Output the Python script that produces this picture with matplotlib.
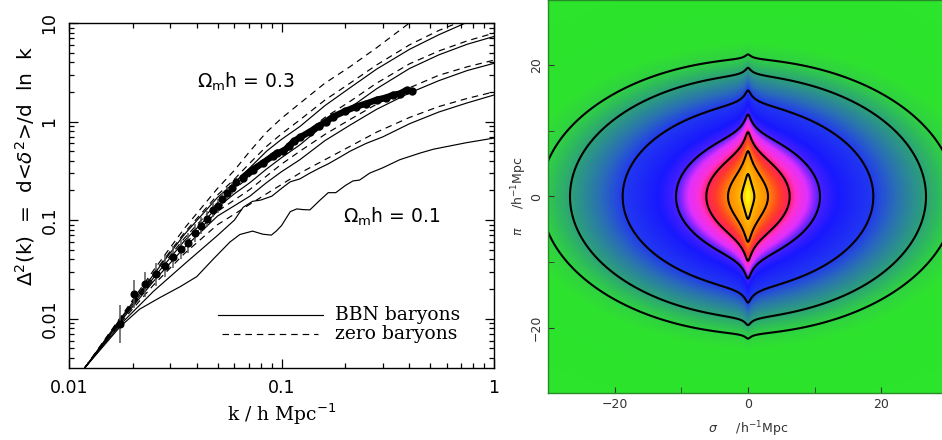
import numpy as np
import matplotlib
matplotlib.use("Agg")
import matplotlib.pyplot as plt
from matplotlib.colors import LinearSegmentedColormap
from matplotlib.ticker import FixedLocator, NullFormatter

plt.rcParams['font.family'] = ['DejaVu Sans']
plt.rcParams['mathtext.fontset'] = 'dejavusans'

# ---------------- linear-theory curves, Delta^2(k) ----------------
k_smooth = [0.0119, 0.0174, 0.025, 0.035, 0.05, 0.06, 0.071, 0.085, 0.1, 0.122,
            0.16, 0.21, 0.28, 0.4, 0.55, 0.75, 1.0]

zero_030 = [0.0032, 0.0102, 0.031, 0.083, 0.21, 0.32, 0.50, 0.78, 1.08, 1.53,
            2.45, 3.6, 5.6, 10.0, 15.0, 21.0, 28.0]
zero_025 = [0.0032, 0.0100, 0.029, 0.075, 0.18, 0.26, 0.38, 0.56, 0.75, 1.04,
            1.65, 2.45, 3.75, 6.0, 8.4, 11.0, 14.0]
bbn_030 = [0.0032, 0.0099, 0.028, 0.072, 0.17, 0.24, 0.34, 0.50, 0.66, 0.89,
           1.45, 2.2, 3.4, 5.4, 7.6, 10.2, 13.0]
zero_020 = [0.0032, 0.0097, 0.027, 0.066, 0.15, 0.205, 0.28, 0.39, 0.52, 0.70,
            1.1, 1.6, 2.45, 3.85, 5.2, 6.6, 7.9]
bbn_025 = [0.0032, 0.0096, 0.026, 0.062, 0.135, 0.185, 0.24, 0.33, 0.43, 0.58,
           0.94, 1.38, 2.15, 3.45, 4.75, 6.1, 7.3]
zero_015 = [0.0032, 0.0094, 0.025, 0.057, 0.123, 0.16, 0.205, 0.28, 0.37, 0.50,
            0.74, 1.05, 1.5, 2.2, 2.95, 3.6, 4.2]
bbn_020 = [0.0032, 0.0093, 0.024, 0.053, 0.11, 0.14, 0.175, 0.24, 0.31, 0.41,
           0.64, 0.92, 1.33, 1.95, 2.6, 3.3, 3.9]
zero_010 = [0.0032, 0.009, 0.022, 0.046, 0.09, 0.115, 0.145, 0.185, 0.23, 0.30,
            0.41, 0.56, 0.78, 1.1, 1.42, 1.72, 2.0]

k_bbn015 = [0.0119, 0.0174, 0.025, 0.035, 0.05, 0.06, 0.066, 0.073, 0.08, 0.09,
            0.1015, 0.11, 0.122, 0.136, 0.152, 0.165, 0.19, 0.21, 0.25, 0.3, 0.4,
            0.55, 0.75, 1.0]
bbn_015 = [0.0032, 0.0087, 0.019, 0.036, 0.07, 0.10, 0.135, 0.155, 0.16, 0.175,
           0.215, 0.245, 0.262, 0.30, 0.34, 0.37, 0.44, 0.50, 0.60, 0.70, 0.95,
           1.25, 1.55, 1.86]

k_bbn010 = [0.0119, 0.0174, 0.0215, 0.0268, 0.0333, 0.0399, 0.0476, 0.0572, 0.0637,
            0.0731, 0.0816, 0.0896, 0.0948, 0.1, 0.11, 0.118, 0.126, 0.136, 0.152,
            0.166, 0.18, 0.2, 0.217, 0.233, 0.26, 0.3, 0.36, 0.45, 0.52, 0.74, 1.0]
bbn_010 = [0.0032, 0.0083, 0.0125, 0.0164, 0.0211, 0.0267, 0.040, 0.060, 0.0715,
           0.0774, 0.072, 0.0705, 0.078, 0.088, 0.122, 0.130, 0.128, 0.127, 0.160,
           0.190, 0.190, 0.225, 0.250, 0.255, 0.30, 0.34, 0.41, 0.48, 0.525, 0.61,
           0.68]

# ---------------- measured band powers ----------------
k_low = [0.0174, 0.0202, 0.0227, 0.0256, 0.0282, 0.031, 0.0338, 0.0363, 0.039,
         0.042, 0.0447, 0.0476, 0.0502, 0.0527, 0.0557, 0.0585, 0.0613]
d_low = [0.0088, 0.0177, 0.0223, 0.0281, 0.0342, 0.042, 0.0505, 0.059, 0.0745,
         0.088, 0.103, 0.128, 0.139, 0.162, 0.189, 0.213, 0.243]
err_dex = [0.19, 0.14, 0.13, 0.12, 0.11, 0.11, 0.10, 0.10, 0.09, 0.09, 0.08,
           0.08, 0.07, 0.07, 0.06, 0.06, 0.05]
k_high = [0.0656, 0.0731, 0.0816, 0.0912, 0.095, 0.102, 0.109, 0.114, 0.122, 0.136,
          0.15, 0.162, 0.175, 0.2, 0.225, 0.25, 0.28, 0.31, 0.335, 0.36, 0.388, 0.41]
d_high = [0.27, 0.325, 0.38, 0.45, 0.48, 0.50, 0.57, 0.63, 0.69, 0.79, 0.90, 1.00,
          1.12, 1.28, 1.42, 1.52, 1.66, 1.75, 1.86, 1.92, 2.09, 2.03]

x_ticks = [0.01, 0.1, 1]
x_ticklabels = ['0.01', '0.1', '1']
y_ticks = [0.01, 0.1, 1, 10]
y_ticklabels = ['0.01', '0.1', '1', '10']

# ---------------- redshift-space correlation function ----------------
r0_corr = 5.0          # real-space correlation length
gamma_corr = 1.7       # real-space slope
squash = 1.6           # large-scale infall flattening along pi
sigma_v = 3.6          # pairwise dispersion scale along pi
core = 0.3
sigma_cross = [26.7, 18.8, 10.8, 6.25, 3.0, 0.95]   # contour crossings on pi = 0
pi_cross_outer = 21.7                               # outer contour on sigma = 0

fig = plt.figure(figsize=(9.42, 4.40), dpi=100)

# ======== left panel ========
ax = fig.add_axes([69/942, 72/440, 425/942, 345/440])
ax.set_xscale('log')
ax.set_yscale('log')
ax.set_xlim(0.01, 1)
ax.set_ylim(10**-2.5, 10)

dash = (0, (5.5, 4.2))
lw = 0.85
for vals in [zero_030, zero_025, zero_020, zero_015, zero_010]:
    ax.plot(k_smooth, vals, color='black', lw=lw, linestyle=dash)
for vals in [bbn_030, bbn_025, bbn_020]:
    ax.plot(k_smooth, vals, color='black', lw=lw)
ax.plot(k_bbn015, bbn_015, color='black', lw=lw)
ax.plot(k_bbn010, bbn_010, color='black', lw=lw)

d_low_a = np.array(d_low)
e_a = np.array(err_dex)
ax.vlines(k_low, d_low_a * 10**(-e_a), d_low_a * 10**e_a, color='#555555', lw=1.1, zorder=3)
ax.plot(k_low, d_low, 'o', color='black', ms=4.8, zorder=4)
ax.plot(k_high, d_high, '-', color='black', lw=4.6, solid_capstyle='round',
        solid_joinstyle='round', zorder=4)
ax.plot(k_high, d_high, 'o', color='black', ms=5.0, zorder=4)

ax.xaxis.set_major_locator(FixedLocator(x_ticks))
ax.set_xticklabels(x_ticklabels)
ax.yaxis.set_major_locator(FixedLocator(y_ticks))
ax.set_yticklabels(y_ticklabels, rotation=90, va='center')
ax.xaxis.set_minor_locator(FixedLocator([m * 10.0**e for e in (-2, -1) for m in range(2, 10)]))
ax.yaxis.set_minor_locator(FixedLocator([m * 10.0**e for e in (-3, -2, -1, 0) for m in range(2, 10)]))
ax.xaxis.set_minor_formatter(NullFormatter())
ax.yaxis.set_minor_formatter(NullFormatter())
ax.tick_params(which='both', direction='in', top=True, right=True, width=0.9)
ax.tick_params(which='major', length=6.5, labelsize=12.5, pad=8)
ax.tick_params(axis='y', which='major', pad=7.5)
ax.tick_params(which='minor', length=3.5)
for sp in ax.spines.values():
    sp.set_linewidth(1.0)

ax.set_xlabel(r'k / h Mpc$^{-1}$', family='DejaVu Serif', fontsize=13.5, labelpad=3)
ax.set_ylabel(r'$\Delta^2$(k)  =  d<$\delta^2$>/d  ln  k', fontsize=14.5, va='center')
ax.yaxis.set_label_coords(-0.103, 0.586)

ax.text(0.301, 0.829, r'$\Omega_{\rm m}$h = 0.3', transform=ax.transAxes,
        fontsize=13.5, ha='left', va='center')
ax.text(0.645, 0.438, r'$\Omega_{\rm m}$h = 0.1', transform=ax.transAxes,
        fontsize=13.5, ha='left', va='center')

ax.plot([0.351, 0.598], [0.154, 0.154], transform=ax.transAxes, color='black', lw=lw)
ax.plot([0.36, 0.586], [0.099, 0.099], transform=ax.transAxes, color='black', lw=lw,
        linestyle=dash)
ax.text(0.626, 0.154, 'BBN baryons', transform=ax.transAxes, family='DejaVu Serif',
        fontsize=13.5, va='center')
ax.text(0.626, 0.099, 'zero baryons', transform=ax.transAxes, family='DejaVu Serif',
        fontsize=13.5, va='center')

# ======== right panel ========
sig = np.linspace(-30, 30, 481)
step = sig[1] - sig[0]
pi_pad = np.arange(-70, 70 + step / 2, step)
S, P = np.meshgrid(sig, pi_pad)
r = np.sqrt(S**2 + (squash * P)**2 + core**2)
xi_real = (r / r0_corr)**(-gamma_corr)
v = np.arange(-40, 40 + step / 2, step)
kern = np.exp(-np.sqrt(2) * np.abs(v) / sigma_v)
kern /= kern.sum()
xi_z = np.empty_like(xi_real)
for j in range(xi_real.shape[1]):
    xi_z[:, j] = np.convolve(xi_real[:, j], kern, mode='same')
keep = np.abs(pi_pad) <= 30 + 1e-9
pi_vals = pi_pad[keep]
field = xi_z[keep]

i0 = int(np.argmin(np.abs(pi_vals)))
j0 = int(np.argmin(np.abs(sig)))
levels = [np.interp(pi_cross_outer, pi_vals[i0:], field[i0:, j0])]
row = field[i0]
for sc in sigma_cross:
    levels.append(np.interp(sc, sig[j0:], row[j0:]))
levels = np.array(levels)

lg = np.log10(field)
llev = np.log10(levels)
lo = llev[0] - 0.6
hi = lg.max()


def pos(x):
    return (x - lo) / (hi - lo)


def mix(a, b, t):
    return a + t * (b - a)


stops = [
    (0.0, '#2ae62a'),
    (pos(llev[0]) - 0.03, '#2ee22e'),
    (pos(llev[0]), '#30d044'),
    (pos(llev[1]), '#2ca07a'),
    (pos(mix(llev[1], llev[2], 0.5)), '#2a70b4'),
    (pos(llev[2]), '#2238f0'),
    (pos(mix(llev[2], llev[3], 0.6)), '#1818ff'),
    (pos(llev[3]), '#4a20ff'),
    (pos(mix(llev[3], llev[4], 0.35)), '#e030ff'),
    (pos(mix(llev[3], llev[4], 0.75)), '#ff30d0'),
    (pos(llev[4]), '#ff2060'),
    (pos(mix(llev[4], llev[5], 0.35)), '#ff3a2a'),
    (pos(llev[5]), '#ff8c00'),
    (pos(llev[6]), '#ffc000'),
    (1.0, '#ffff10'),
]
cmap = LinearSegmentedColormap.from_list('xi', stops)

ax2 = fig.add_axes([548/942, 47/440, 400/942, 393/440])
ax2.imshow(lg, origin='lower', extent=[-30, 30, -30, 30], cmap=cmap,
           vmin=lo, vmax=hi, interpolation='bilinear', aspect='auto')
ax2.contour(sig, pi_vals, field, levels=np.sort(levels), colors='black', linewidths=1.5)
ax2.set_xlim(-30, 30)
ax2.set_ylim(-30, 30)
ax2.set_xticks([-20, 0, 20])
ax2.set_yticks([-20, 0, 20])
ax2.set_xticklabels(['\u221220', '0', '20'])
ax2.set_yticklabels(['\u221220', '0', '20'], rotation=90, va='center')
ax2.set_xticks([-30, -10, 10, 30], minor=True)
ax2.set_yticks([-30, -10, 10, 30], minor=True)
ax2.tick_params(which='both', direction='in', labelsize=9, colors='#333333', length=4)
for sp in ax2.spines.values():
    sp.set_color('#2a8a2a')
    sp.set_linewidth(1.0)
ax2.set_xlabel(r'$\sigma$     /h$^{-1}$Mpc', fontsize=9, color='#333333', labelpad=6)
ax2.set_ylabel(r'$\pi$     /h$^{-1}$Mpc', fontsize=9, color='#333333', labelpad=1)

fig.savefig('out.png', dpi=100)
